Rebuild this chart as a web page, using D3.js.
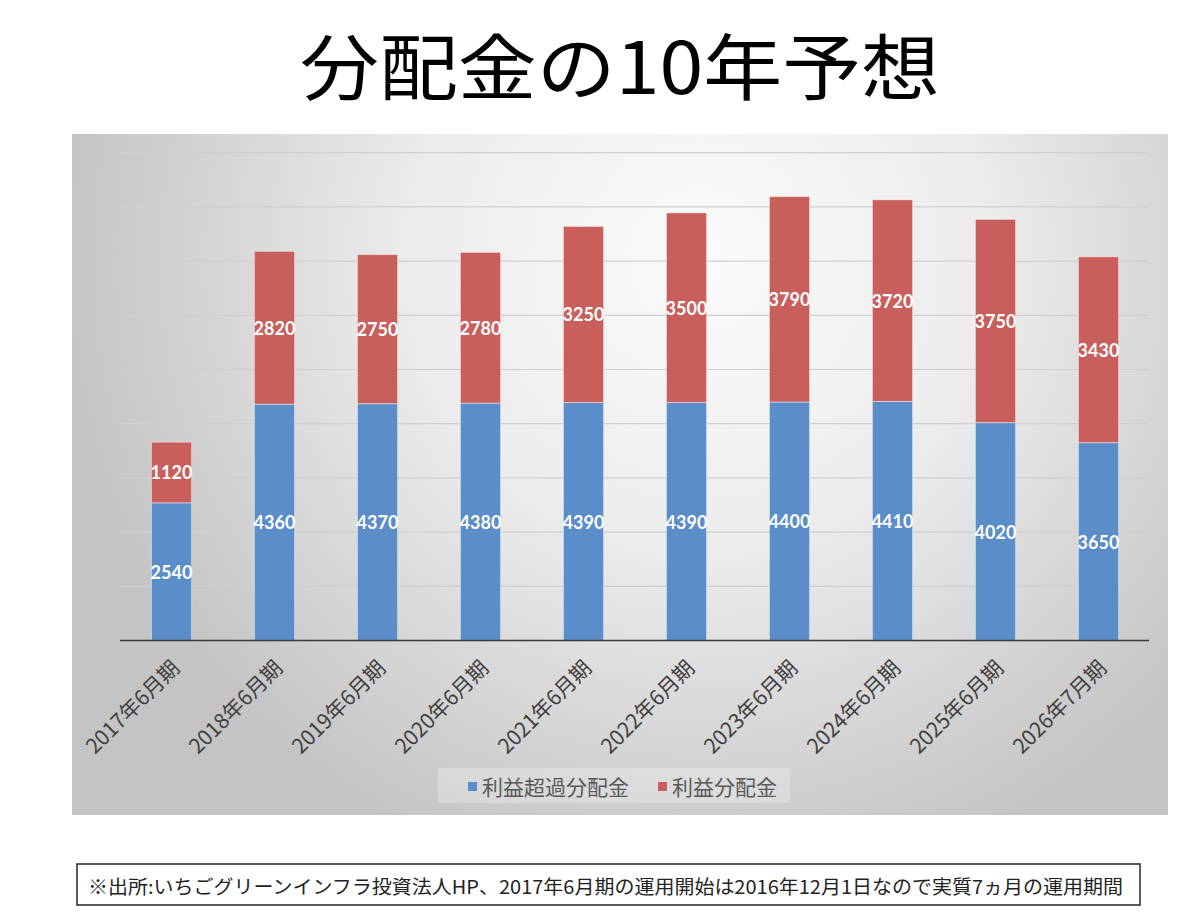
<!DOCTYPE html>
<html><head><meta charset="utf-8">
<script src="https://cdn.jsdelivr.net/npm/d3@7"></script>
<style>
html,body{margin:0;padding:0;background:#fff;}
svg{display:block;}
</style></head>
<body>
<svg id="c" width="1200" height="924"></svg>
<script>
const categories = ["2017年6月期","2018年6月期","2019年6月期","2020年6月期","2021年6月期","2022年6月期","2023年6月期","2024年6月期","2025年6月期","2026年7月期"];
const excessValues = [2540,4360,4370,4380,4390,4390,4400,4410,4020,3650];
const profitValues = [1120,2820,2750,2780,3250,3500,3790,3720,3750,3430];
const seriesNames = ["利益超過分配金","利益分配金"];
const yTicks = [0,1000,2000,3000,4000,5000,6000,7000,8000,9000];
const titleText = "分配金の10年予想";
const noteText = "※出所:いちごグリーンインフラ投資法人HP、2017年6月期の運用開始は2016年12月1日なので実質7ヵ月の運用期間";

const colors = ["#5b8dc9","#c95f5c"];
const svg = d3.select("#c");
const jp = "'Noto Sans CJK JP','Noto Sans',sans-serif";

// title
svg.append("text").attr("x",620).attr("y",94)
  .attr("text-anchor","middle").attr("font-family",jp).attr("font-size",72)
  .attr("fill","#000").attr("textLength",640).attr("lengthAdjust","spacingAndGlyphs")
  .text(titleText);

// panel background
const defs = svg.append("defs");
const rg = defs.append("radialGradient").attr("id","bg")
  .attr("gradientUnits","userSpaceOnUse").attr("cx",700).attr("cy",260).attr("r",640);
rg.append("stop").attr("offset",0).attr("stop-color","#fbfbfb");
rg.append("stop").attr("offset",0.45).attr("stop-color","#ececec");
rg.append("stop").attr("offset",1).attr("stop-color","#c4c4c4");
svg.append("rect").attr("x",72).attr("y",134).attr("width",1096).attr("height",681).attr("fill","url(#bg)");

// scales
const x = d3.scaleBand().domain(categories).range([120,1150]).paddingInner(0.61).paddingOuter(0.305);
const y = d3.scaleLinear().domain([0,9000]).range([640.5,152.7]);

// gridlines
svg.append("g").selectAll("line").data(yTicks.filter(d=>d>0)).join("line")
  .attr("x1",120).attr("x2",1149).attr("y1",d=>y(d)).attr("y2",d=>y(d))
  .attr("stroke","#cfcfcf").attr("stroke-width",1.2);

// stacks
const rows = categories.map((c,i)=>({cat:c, a:excessValues[i], b:profitValues[i]}));
const stack = d3.stack().keys(["a","b"])(rows);
const g = svg.append("g");
stack.forEach((s,si)=>{
  g.append("g").selectAll("rect").data(s).join("rect")
    .attr("x",d=>x(d.data.cat)).attr("width",x.bandwidth())
    .attr("y",d=>y(d[1])).attr("height",d=>y(d[0])-y(d[1]))
    .attr("fill",colors[si]).attr("stroke","rgba(255,255,255,0.45)").attr("stroke-width",1);
});
stack.forEach((s,si)=>{
  g.append("g").selectAll("text").data(s).join("text")
    .attr("x",d=>x(d.data.cat)+x.bandwidth()/2)
    .attr("y",d=>(y(d[0])+y(d[1]))/2)
    .attr("text-anchor","middle").attr("dominant-baseline","central")
    .attr("font-family","Lato,'Open Sans',sans-serif").attr("font-weight",700).attr("font-size",18)
    .attr("fill","#fff").text(d=>d[1]-d[0]);
});

// axis
const ax = svg.append("g").attr("transform","translate(0,640.5)").call(d3.axisBottom(x).tickSize(0).tickSizeOuter(0).tickFormat(""));
ax.select(".domain").attr("stroke","#3a3a3a").attr("stroke-width",1.6).attr("d","M120,0H1149");
svg.append("g").selectAll("text").data(categories).join("text")
  .attr("transform",d=>`translate(${x(d)+x.bandwidth()/2+3},663) rotate(-45)`)
  .attr("text-anchor","end").attr("dominant-baseline","central")
  .attr("font-family",jp).attr("font-size",21).attr("fill","#404040").text(d=>d);

// legend
svg.append("rect").attr("x",438).attr("y",768).attr("width",352).attr("height",35).attr("fill","rgba(255,255,255,0.25)");
const legX = [468,658];
seriesNames.forEach((n,i)=>{
  svg.append("rect").attr("x",legX[i]).attr("y",782).attr("width",9).attr("height",9).attr("fill",colors[i]);
  svg.append("text").attr("x",legX[i]+14).attr("y",786).attr("dominant-baseline","central")
    .attr("font-family",jp).attr("font-size",21).attr("fill","#595959").text(n);
});

// footnote
svg.append("rect").attr("x",77).attr("y",864).attr("width",1063).attr("height",41)
  .attr("fill","#fff").attr("stroke","#333").attr("stroke-width",1.6);
svg.append("text").attr("x",88).attr("y",885).attr("dominant-baseline","central")
  .attr("font-family",jp).attr("font-size",19).attr("fill","#222")
  .attr("textLength",1035).attr("lengthAdjust","spacingAndGlyphs").text(noteText);
</script>
</body></html>
